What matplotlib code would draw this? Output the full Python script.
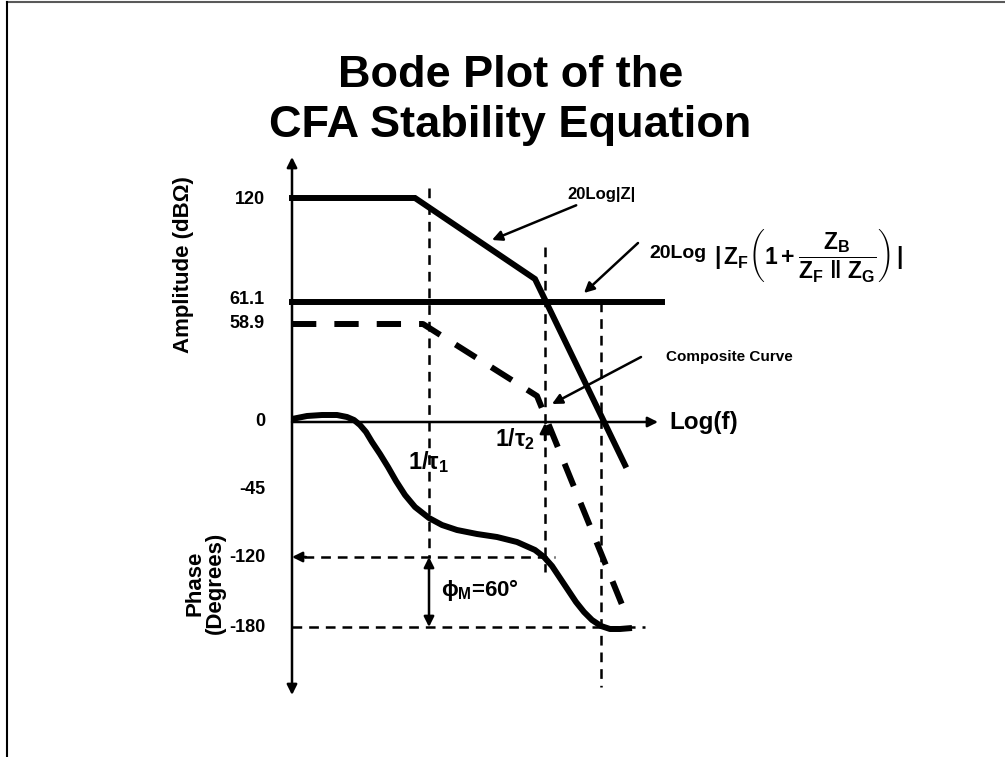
import matplotlib
matplotlib.use("Agg")
import matplotlib.pyplot as plt
from matplotlib.lines import Line2D

plt.rcParams["font.family"] = ["Liberation Sans", "DejaVu Sans"]
plt.rcParams["font.weight"] = "bold"
plt.rcParams["mathtext.fontset"] = "custom"
plt.rcParams["mathtext.rm"] = "Liberation Sans:bold"
plt.rcParams["mathtext.it"] = "Liberation Sans:bold"
plt.rcParams["mathtext.bf"] = "Liberation Sans:bold"
plt.rcParams["lines.scale_dashes"] = False

# schematic coordinates: x = log(f) units from the origin, y = plot level units
tick_pos = [222, 122, 99, 1, -68, -135, -205]
tick_labels = ["120", "61.1", "58.9", "0", "-45", "-120", "-180"]

f_tau1 = 137
f_tau2 = 253
f_cross = 309

# 20Log|Z|
z_x = [0, 123, 243, 333]
z_y = [224, 224, 143, -43]

# 20Log|ZF(1 + ZB/(ZF||ZG))| = 61.1 dB
zfb_level = 120
zfb_x = [0, 370]

# composite curve
comp_x = [0, 131, 245, 333]
comp_y = [98, 98, 26, -190]

# phase
phase_x = [0, 15, 30, 45, 55, 62, 68, 74, 80, 88, 96, 104, 113, 123, 137,
           150, 165, 185, 205, 225, 243, 252, 260, 268, 276, 284, 292, 300,
           309, 318, 328, 340]
phase_y = [3, 6, 7, 7, 5, 2, -3, -10, -20, -32, -45, -59, -73, -85, -96,
           -103, -108, -112, -115, -120, -128, -135, -144, -156, -168, -180,
           -190, -198, -204, -207, -207, -206]
phase_120 = -135
phase_180 = -205

fig = plt.figure(figsize=(10.05, 7.57), dpi=100)
fig.patch.set_facecolor("white")
ax = fig.add_axes([0, 0, 1, 1])
ax.set_xlim(-292, 713)
ax.set_ylim(-335, 422)
ax.axis("off")

# slide frame
fig.add_artist(Line2D([0.007, 1.0], [0.997, 0.997], color="0.35", lw=1.5))
fig.add_artist(Line2D([0.007, 0.007], [0.0, 0.997], color="black", lw=1.5))

fig.text(0.508, 0.9, "Bode Plot of the", ha="center", va="center", fontsize=32.5)
fig.text(0.508, 0.834, "CFA Stability Equation", ha="center", va="center",
         fontsize=32.5)

thin = 1.8
thick = 4.3
arrow = dict(arrowstyle="-|>", color="black", lw=thin, mutation_scale=15,
             shrinkA=0, shrinkB=0)

# axes with arrows
ax.annotate("", xy=(0, 265), xytext=(0, -273),
            arrowprops=dict(arrow, arrowstyle="<|-|>"))
ax.annotate("", xy=(366, 0), xytext=(0, 0), arrowprops=arrow)
ax.text(377, 0, "Log(f)", ha="left", va="center", fontsize=17.5)

for p, lab in zip(tick_pos, tick_labels):
    ax.text(-27, p, lab, ha="right", va="center", fontsize=13)

ax.text(-108, 157, "Amplitude (dB\u03a9)", rotation=90, ha="center", va="center",
        fontsize=16)
ax.text(-87, -161, "Phase\n(Degrees)", rotation=90, ha="center", va="center",
        fontsize=16, multialignment="center", linespacing=1.0)

# guide lines
guide = dict(color="black", lw=thin, dashes=(7, 5))
ax.plot([f_tau1, f_tau1], [234, phase_120], **guide)
ax.plot([f_tau2, f_tau2], [175, -150], **guide)
ax.plot([f_cross, f_cross], [zfb_level, -265], **guide)
ax.plot([12, 263], [phase_120, phase_120], **guide)
ax.plot([0, 353], [phase_180, phase_180], **guide)
ax.annotate("", xy=(0, phase_120), xytext=(14, phase_120), arrowprops=arrow)
ax.annotate("", xy=(f_tau2, -1), xytext=(f_tau2, -18), arrowprops=arrow)
ax.annotate("", xy=(f_tau1, phase_120), xytext=(f_tau1, phase_180),
            arrowprops=dict(arrow, arrowstyle="<|-|>"))

# curves
ax.plot(z_x, z_y, color="black", lw=thick, solid_joinstyle="miter")
ax.plot(zfb_x, [zfb_level, zfb_level], color="black", lw=thick)
ax.plot(comp_x, comp_y, color="black", lw=thick, dashes=(17.5, 13))
ax.plot(phase_x, phase_y, color="black", lw=thick, solid_joinstyle="round",
        solid_capstyle="butt")

# annotations
ax.text(f_tau1 - 1, -40, r"1/$\tau_1$", ha="center", va="center", fontsize=17)
ax.text(f_tau2 - 30, -17, r"1/$\tau_2$", ha="center", va="center", fontsize=16.5)
ax.text(149, -168, r"$\phi_M$=60°", ha="left", va="center", fontsize=16)

ax.annotate("20Log|Z|", xy=(200, 182), xytext=(275, 227), fontsize=12,
            ha="left", va="center", arrowprops=arrow)
ax.annotate("", xy=(292, 129), xytext=(346, 179), arrowprops=arrow)
ax.text(357, 169, "20Log", ha="left", va="center", fontsize=14)
ax.text(422, 166,
        r"$|\,Z_F\left(1+\dfrac{Z_B}{Z_F\ \Vert\ Z_G}\right)\,|$",
        ha="left", va="center", fontsize=16.5)
ax.annotate("", xy=(260, 18), xytext=(349, 65), arrowprops=arrow)
ax.text(374, 65, "Composite Curve", ha="left", va="center", fontsize=11)

fig.savefig("out.png", dpi=100)
